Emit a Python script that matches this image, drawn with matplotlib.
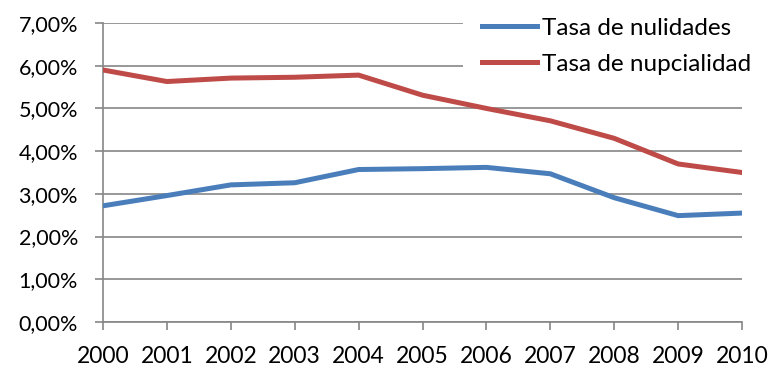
import matplotlib
matplotlib.use("Agg")
import matplotlib.pyplot as plt
from matplotlib.ticker import FuncFormatter

# values (percent)
years = [2000, 2001, 2002, 2003, 2004, 2005, 2006, 2007, 2008, 2009, 2010]
nulidades = [2.72, 2.96, 3.21, 3.26, 3.57, 3.59, 3.62, 3.47, 2.91, 2.49, 2.55]
nupcialidad = [5.90, 5.63, 5.71, 5.73, 5.78, 5.31, 5.00, 4.71, 4.30, 3.70, 3.50]
labels = ["Tasa de nulidades", "Tasa de nupcialidad"]

plt.rcParams['font.family'] = ['Lato', 'DejaVu Sans']

fig = plt.figure(figsize=(7.72, 3.70), dpi=100)
ax = fig.add_axes([103 / 772, 1 - 322 / 370, (742 - 103) / 772, (322 - 23) / 370])

grid_col = '#868686'
ax.plot(years, nulidades, color='#4A7EBB', lw=3.6, label=labels[0], zorder=3)
ax.plot(years, nupcialidad, color='#BE4B48', lw=3.6, label=labels[1], zorder=3)

ax.set_xlim(years[0], years[-1])
ax.set_ylim(0, 7)
ax.set_xticks(years)
ax.set_yticks(range(0, 8))
ax.yaxis.set_major_formatter(FuncFormatter(lambda v, p: f"{v:.2f}".replace('.', ',') + '%'))

ax.set_axisbelow(True)
ax.grid(axis='y', color=grid_col, lw=1.2)
for s in ['top', 'right']:
    ax.spines[s].set_visible(False)
for s in ['left', 'bottom']:
    ax.spines[s].set_color(grid_col)
    ax.spines[s].set_linewidth(1.2)
ax.tick_params(axis='both', colors=grid_col, length=6, width=1.2,
               labelcolor='black')
ax.tick_params(axis='x', pad=11, labelsize=16.5)
ax.tick_params(axis='y', pad=12, labelsize=15.5)

leg = ax.legend(loc='upper left', bbox_to_anchor=(463 / 772, 1.005),
                bbox_transform=fig.transFigure, frameon=True, fancybox=False,
                edgecolor='none', facecolor='white', framealpha=1,
                fontsize=17.5, borderpad=0.8, handlelength=2.25,
                handletextpad=0.2, labelspacing=0.62, borderaxespad=0)
leg.set_zorder(1)

fig.savefig("out.png", dpi=100)
